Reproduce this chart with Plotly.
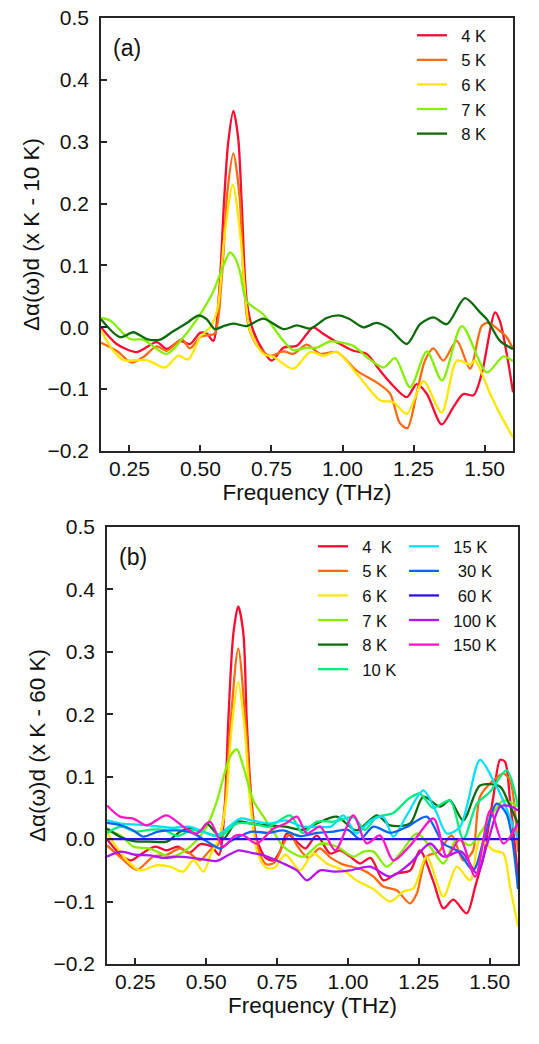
import plotly.graph_objects as go

# ---- panel (a): x K - 10 K ----
FREQ_A_4K = [0.15, 0.205, 0.276, 0.346, 0.381, 0.428, 0.463, 0.499, 0.522, 0.545,
             0.566, 0.583, 0.598, 0.616, 0.633, 0.645, 0.663, 0.686, 0.721, 0.751,
             0.792, 0.839, 0.874, 0.897, 0.933, 0.980, 1.038, 1.085, 1.132, 1.167,
             1.226, 1.261, 1.296, 1.349, 1.390, 1.425, 1.461, 1.490, 1.537, 1.554,
             1.578, 1.60]
DA_A_4K = [0.0, -0.027, -0.040, -0.024, -0.035, -0.022, -0.027, -0.009, -0.010, -0.022,
           0.058, 0.203, 0.300, 0.350, 0.305, 0.203, 0.042, -0.006, -0.038, -0.054,
           -0.033, -0.030, -0.011, 0.000, -0.011, -0.024, -0.038, -0.043, -0.070, -0.089,
           -0.113, -0.092, -0.107, -0.157, -0.129, -0.108, -0.110, -0.075, 0.024, 0.010,
           -0.043, -0.105]

FREQ_A_5K = [0.15, 0.205, 0.258, 0.299, 0.346, 0.381, 0.434, 0.463, 0.499, 0.522,
             0.55, 0.575, 0.595, 0.616, 0.638, 0.653, 0.67, 0.70, 0.745, 0.792,
             0.827, 0.874, 0.921, 0.980, 1.050, 1.120, 1.167, 1.202, 1.228, 1.261,
             1.290, 1.320, 1.355, 1.402, 1.449, 1.490, 1.513, 1.554, 1.578, 1.60]
DA_A_5K = [-0.025, -0.038, -0.057, -0.048, -0.031, -0.038, -0.019, -0.034, -0.016, -0.013,
           -0.010, 0.080, 0.220, 0.281, 0.210, 0.070, 0.000, -0.030, -0.046, -0.039,
           -0.043, -0.028, -0.043, -0.040, -0.070, -0.089, -0.107, -0.155, -0.163, -0.107,
           -0.054, -0.034, -0.054, -0.022, -0.067, 0.002, 0.007, -0.006, -0.016, -0.035]

FREQ_A_6K = [0.15, 0.193, 0.229, 0.311, 0.375, 0.422, 0.457, 0.499, 0.534, 0.56,
             0.585, 0.614, 0.64, 0.66, 0.675, 0.721, 0.757, 0.827, 0.886, 0.933,
             0.980, 1.050, 1.132, 1.179, 1.226, 1.285, 1.349, 1.402, 1.449, 1.466,
             1.519, 1.554, 1.60]
DA_A_6K = [-0.005, -0.038, -0.053, -0.053, -0.065, -0.046, -0.052, -0.016, 0.000, 0.030,
           0.150, 0.230, 0.150, 0.040, -0.006, -0.043, -0.048, -0.067, -0.040, -0.046,
           -0.040, -0.075, -0.118, -0.121, -0.140, -0.087, -0.138, -0.054, -0.060, -0.054,
           -0.107, -0.140, -0.178]

FREQ_A_7K = [0.15, 0.182, 0.252, 0.299, 0.381, 0.440, 0.499, 0.545, 0.581, 0.604,
             0.622, 0.639, 0.663, 0.721, 0.792, 0.827, 0.874, 0.909, 0.956, 1.038,
             1.085, 1.144, 1.185, 1.238, 1.297, 1.350, 1.420, 1.508, 1.566, 1.60]
DA_A_7K = [0.015, 0.011, -0.019, -0.020, -0.043, -0.016, 0.021, 0.058, 0.100, 0.121,
           0.112, 0.090, 0.042, 0.021, -0.022, -0.037, -0.033, -0.033, -0.023, -0.030,
           -0.048, -0.065, -0.050, -0.097, -0.039, -0.086, 0.002, -0.073, -0.047, -0.055]

FREQ_A_8K = [0.15, 0.217, 0.264, 0.311, 0.358, 0.405, 0.452, 0.493, 0.522, 0.551,
             0.581, 0.616, 0.663, 0.721, 0.792, 0.839, 0.886, 0.944, 0.991, 1.026,
             1.073, 1.120, 1.167, 1.226, 1.273, 1.320, 1.367, 1.431, 1.484, 1.508,
             1.554, 1.60]
DA_A_8K = [0.013, -0.016, -0.008, -0.019, -0.020, -0.006, 0.007, 0.019, 0.013, -0.003,
           0.002, 0.006, 0.002, 0.014, -0.003, 0.003, -0.002, 0.015, 0.019, 0.013,
           0.000, 0.007, -0.003, -0.027, 0.005, 0.016, 0.005, 0.047, 0.024, 0.013,
           -0.022, -0.035]

# ---- panel (b): x K - 60 K ----
FREQ_B_4K = [0.15, 0.20, 0.235, 0.27, 0.32, 0.36, 0.40, 0.44, 0.48, 0.52,
             0.545, 0.565, 0.578, 0.596, 0.613, 0.631, 0.643, 0.66, 0.678, 0.71,
             0.737, 0.76, 0.784, 0.819, 0.85, 0.89, 0.937, 0.972, 1.008, 1.043,
             1.08, 1.125, 1.172, 1.22, 1.254, 1.30, 1.337, 1.372, 1.419, 1.449,
             1.478, 1.513, 1.537, 1.554, 1.572, 1.60]
DA_B_4K = [0.0, -0.026, -0.034, -0.024, -0.012, -0.018, -0.012, -0.022, -0.008, -0.012,
           -0.025, 0.05, 0.19, 0.33, 0.373, 0.33, 0.19, 0.06, 0.0, -0.03,
           -0.034, -0.02, 0.009, -0.004, -0.015, 0.006, -0.023, -0.018, -0.028, -0.039,
           -0.03, -0.066, -0.055, -0.05, -0.018, -0.066, -0.111, -0.097, -0.119, -0.076,
           -0.028, 0.068, 0.127, 0.124, 0.062, -0.06]

FREQ_B_5K = [0.15, 0.20, 0.255, 0.313, 0.36, 0.408, 0.443, 0.478, 0.513, 0.54,
             0.565, 0.585, 0.613, 0.64, 0.66, 0.68, 0.71, 0.74, 0.77, 0.796,
             0.82, 0.86, 0.90, 0.94, 0.98, 1.02, 1.055, 1.09, 1.125, 1.172,
             1.219, 1.243, 1.278, 1.32, 1.366, 1.407, 1.44, 1.466, 1.513, 1.548,
             1.572, 1.60]
DA_B_5K = [-0.01, -0.03, -0.049, -0.028, -0.025, -0.015, -0.023, -0.034, -0.018, -0.01,
           0.05, 0.18, 0.305, 0.18, 0.05, -0.01, -0.04, -0.038, -0.01, 0.009,
           -0.01, -0.03, -0.015, -0.03, -0.04, -0.045, -0.05, -0.06, -0.076, -0.082,
           -0.103, -0.087, -0.028, -0.02, 0.006, -0.034, -0.02, 0.068, 0.094, 0.105,
           0.094, -0.02]

FREQ_B_6K = [0.15, 0.22, 0.266, 0.325, 0.372, 0.419, 0.455, 0.49, 0.52, 0.545,
             0.57, 0.59, 0.613, 0.635, 0.655, 0.68, 0.71, 0.74, 0.78, 0.831,
             0.878, 0.925, 0.984, 1.03, 1.09, 1.149, 1.196, 1.231, 1.278, 1.337,
             1.384, 1.431, 1.466, 1.513, 1.548, 1.572, 1.60]
DA_B_6K = [0.01, -0.034, -0.05, -0.042, -0.044, -0.052, -0.034, -0.052, -0.02, 0.0,
           0.06, 0.18, 0.252, 0.18, 0.06, -0.02, -0.045, -0.046, -0.025, -0.05,
           -0.023, -0.039, -0.05, -0.066, -0.08, -0.1, -0.084, -0.079, -0.028, -0.092,
           -0.044, -0.066, 0.0, -0.018, -0.023, -0.076, -0.14]

FREQ_B_7K = [0.15, 0.20, 0.243, 0.30, 0.372, 0.42, 0.455, 0.502, 0.537, 0.584,
             0.608, 0.631, 0.666, 0.702, 0.74, 0.772, 0.843, 0.902, 0.96, 1.02,
             1.055, 1.09, 1.137, 1.184, 1.243, 1.29, 1.337, 1.384, 1.43, 1.466,
             1.51, 1.548, 1.60]
DA_B_7K = [0.015, 0.005, -0.012, -0.015, -0.028, -0.02, -0.007, 0.02, 0.06, 0.132,
           0.144, 0.116, 0.062, 0.036, 0.01, -0.012, -0.028, -0.007, -0.012, -0.028,
           -0.02, -0.02, -0.044, -0.023, 0.009, -0.012, -0.039, 0.0, -0.01, 0.009,
           0.04, 0.062, 0.052]

FREQ_B_8K = [0.15, 0.20, 0.243, 0.30, 0.361, 0.408, 0.45, 0.478, 0.502, 0.53,
             0.56, 0.608, 0.66, 0.72, 0.78, 0.84, 0.89, 0.96, 1.03, 1.102,
             1.149, 1.219, 1.266, 1.325, 1.36, 1.407, 1.466, 1.537, 1.565, 1.60]
DA_B_8K = [0.017, 0.003, -0.003, -0.004, -0.004, 0.012, 0.018, 0.012, 0.025, 0.012,
           0.0, 0.028, 0.025, 0.022, 0.02, 0.015, 0.025, 0.036, 0.014, 0.038,
           0.022, 0.025, 0.068, 0.052, 0.062, 0.03, 0.086, 0.084, 0.06, 0.025]

FREQ_B_10K = [0.15, 0.20, 0.25, 0.30, 0.35, 0.40, 0.45, 0.50, 0.55, 0.608,
              0.66, 0.72, 0.796, 0.84, 0.89, 0.95, 1.02, 1.06, 1.10, 1.16,
              1.215, 1.254, 1.30, 1.36, 1.407, 1.455, 1.50, 1.56, 1.60]
DA_B_10K = [0.01, 0.02, 0.012, 0.015, 0.015, 0.005, 0.015, 0.01, 0.005, 0.025,
            0.025, 0.02, 0.038, 0.01, 0.028, 0.028, 0.035, 0.015, 0.035, 0.042,
            0.065, 0.073, 0.05, 0.062, 0.0, 0.057, 0.075, 0.11, 0.052]

FREQ_B_15K = [0.15, 0.20, 0.30, 0.38, 0.44, 0.50, 0.53, 0.56, 0.62, 0.66,
              0.72, 0.78, 0.84, 0.89, 0.94, 0.984, 1.03, 1.08, 1.125, 1.16,
              1.21, 1.266, 1.31, 1.349, 1.396, 1.466, 1.513, 1.548, 1.60]
DA_B_15K = [0.03, 0.025, 0.022, 0.018, 0.02, 0.01, 0.005, 0.012, 0.033, 0.03,
            0.025, 0.03, 0.02, 0.02, 0.02, 0.038, 0.009, 0.03, 0.035, 0.004,
            0.04, 0.078, 0.045, 0.009, 0.02, 0.127, 0.094, 0.062, 0.0]

FREQ_B_30K = [0.15, 0.20, 0.243, 0.278, 0.33, 0.396, 0.45, 0.514, 0.549, 0.58,
              0.62, 0.66, 0.72, 0.772, 0.83, 0.89, 0.95, 1.00, 1.043, 1.09,
              1.15, 1.21, 1.278, 1.337, 1.39, 1.442, 1.48, 1.525, 1.56, 1.60]
DA_B_30K = [0.026, 0.022, 0.014, 0.004, 0.012, 0.014, 0.01, -0.007, -0.015, -0.005,
            0.005, 0.012, 0.01, 0.014, 0.005, 0.01, 0.012, 0.015, 0.0, 0.02,
            0.01, 0.02, 0.036, -0.007, -0.02, -0.05, 0.0, 0.057, 0.04, -0.08]

FREQ_B_60K = [0.15, 1.60]
DA_B_60K = [0.0, 0.0]

FREQ_B_100K = [0.15, 0.20, 0.25, 0.302, 0.35, 0.40, 0.45, 0.50, 0.537, 0.58,
               0.615, 0.66, 0.702, 0.772, 0.82, 0.855, 0.902, 0.95, 1.008, 1.078,
               1.149, 1.219, 1.29, 1.337, 1.40, 1.455, 1.49, 1.537, 1.572, 1.60]
DA_B_100K = [-0.028, -0.02, -0.025, -0.026, -0.03, -0.028, -0.03, -0.033, -0.035, -0.025,
             -0.018, -0.022, -0.026, -0.039, -0.05, -0.066, -0.05, -0.052, -0.05, -0.044,
             -0.06, -0.039, -0.007, -0.028, -0.02, -0.055, -0.01, 0.052, 0.053, 0.046]

FREQ_B_150K = [0.15, 0.196, 0.243, 0.29, 0.36, 0.419, 0.466, 0.513, 0.56, 0.60,
               0.631, 0.678, 0.737, 0.78, 0.82, 0.855, 0.902, 0.955, 1.019, 1.066,
               1.113, 1.16, 1.22, 1.302, 1.349, 1.396, 1.449, 1.502, 1.548, 1.60]
DA_B_150K = [0.054, 0.036, 0.033, 0.022, 0.038, 0.02, 0.009, 0.028, -0.012, 0.005,
             0.006, -0.007, 0.017, 0.025, 0.036, 0.009, 0.02, -0.018, 0.038, -0.007,
             0.006, -0.034, -0.01, 0.033, -0.028, 0.0, -0.06, 0.046, -0.007, 0.025]

LABELS_A = ["4 K", "5 K", "6 K", "7 K", "8 K"]
LABELS_B1 = ["4\u00a0\u00a0K", "5 K", "6 K", "7 K", "8 K", "10 K"]
LABELS_B2 = ["15 K", "\u00a030 K", "\u00a060 K", "100 K", "150 K"]

COLORS = {
    "4K": "#ff0a30", "5K": "#ff6a10", "6K": "#ffe600", "7K": "#84f000",
    "8K": "#0b6b0b", "10K": "#00ee80", "15K": "#00e0f8", "30K": "#0a64f5",
    "60K": "#2a10f0", "100K": "#b414f0", "150K": "#ff14c8",
}

FONT = "Arial, Liberation Sans, sans-serif"
AX = "#262626"

# the page body adds an 8px margin, so the figure is sized to the rest of the window
W, H = 531, 1036

panel_a = [
    (FREQ_A_4K, DA_A_4K, "4K"), (FREQ_A_5K, DA_A_5K, "5K"),
    (FREQ_A_6K, DA_A_6K, "6K"), (FREQ_A_7K, DA_A_7K, "7K"),
    (FREQ_A_8K, DA_A_8K, "8K"),
]
panel_b = [
    (FREQ_B_4K, DA_B_4K, "4K"), (FREQ_B_5K, DA_B_5K, "5K"),
    (FREQ_B_6K, DA_B_6K, "6K"), (FREQ_B_7K, DA_B_7K, "7K"),
    (FREQ_B_8K, DA_B_8K, "8K"), (FREQ_B_10K, DA_B_10K, "10K"),
    (FREQ_B_15K, DA_B_15K, "15K"), (FREQ_B_30K, DA_B_30K, "30K"),
    (FREQ_B_60K, DA_B_60K, "60K"), (FREQ_B_100K, DA_B_100K, "100K"),
    (FREQ_B_150K, DA_B_150K, "150K"),
]

fig = go.Figure()

for (f, v, key), label in zip(panel_a, LABELS_A):
    fig.add_trace(go.Scatter(
        x=f, y=v, mode="lines", name="\u00a0\u00a0" + label,
        line=dict(color=COLORS[key], width=2.3, shape="spline", smoothing=0.8),
        xaxis="x", yaxis="y", legend="legend",
    ))

labels_b = LABELS_B1 + LABELS_B2
for i, ((f, v, key), label) in enumerate(zip(panel_b, labels_b)):
    fig.add_trace(go.Scatter(
        x=f, y=v, mode="lines", name="\u00a0\u00a0" + label,
        line=dict(color=COLORS[key], width=2.3, shape="spline", smoothing=0.8),
        xaxis="x2", yaxis="y2", legend="legend2" if i < len(LABELS_B1) else "legend3",
    ))


def xaxis(domain, anchor):
    return dict(
        domain=domain, anchor=anchor, range=[0.15, 1.6], automargin=False,
        tick0=0, dtick=0.25, tickformat=".2f", ticklabeloverflow="allow",
        showline=True, linecolor=AX, linewidth=1.5, mirror=True,
        ticks="inside", ticklen=6, tickwidth=1.5, tickcolor=AX,
        showgrid=False, zeroline=False, ticklabelstandoff=-2,
        tickfont=dict(size=21, color="#111"),
        title=dict(text="Frequency (THz)", font=dict(size=22.5, color="#111"), standoff=4),
    )


def yaxis(domain, anchor, title):
    return dict(
        domain=domain, anchor=anchor, range=[-0.2, 0.5], automargin=False,
        tick0=0, dtick=0.1, tickformat=".1f", ticklabeloverflow="allow",
        showline=True, linecolor=AX, linewidth=1.5, mirror=True,
        ticks="inside", ticklen=6, tickwidth=1.5, tickcolor=AX,
        showgrid=False, zeroline=False, ticklabelstandoff=6,
        tickfont=dict(size=21, color="#111"),
        title=dict(text=title, font=dict(size=22.5, color="#111"), standoff=2),
    )


legend_style = dict(
    xanchor="left", yanchor="top", bgcolor="rgba(0,0,0,0)",
    font=dict(size=16.6, family=FONT, color="#111"), tracegroupgap=0,
)

fig.update_layout(
    width=W, height=H,
    margin=dict(l=0, r=0, t=0, b=0),
    paper_bgcolor="white", plot_bgcolor="white",
    font=dict(family=FONT, color="#111"),
    xaxis=xaxis([93 / W, 505 / W], "y"),
    yaxis=yaxis([1 - 443 / H, 1 - 10 / H], "x", "\u0394\u03b1(\u03c9)d (x K - 10 K)"),
    xaxis2=xaxis([99 / W, 510 / W], "y2"),
    yaxis2=yaxis([1 - 956 / H, 1 - 519 / H], "x2", "\u0394\u03b1(\u03c9)d (x K - 60 K)"),
    legend=dict(x=404 / W, y=1 - 10 / H, **legend_style),
    legend2=dict(x=305 / W, y=1 - 521 / H, **legend_style),
    legend3=dict(x=396 / W, y=1 - 521 / H, **legend_style),
    annotations=[
        dict(text="(a)", x=0.025, y=0.965, xref="x domain", yref="y domain",
             xanchor="left", yanchor="top", showarrow=False,
             font=dict(size=23, color="#111")),
        dict(text="(b)", x=0.025, y=0.965, xref="x2 domain", yref="y2 domain",
             xanchor="left", yanchor="top", showarrow=False,
             font=dict(size=23, color="#111")),
    ],
)

fig.write_html("out.html")
